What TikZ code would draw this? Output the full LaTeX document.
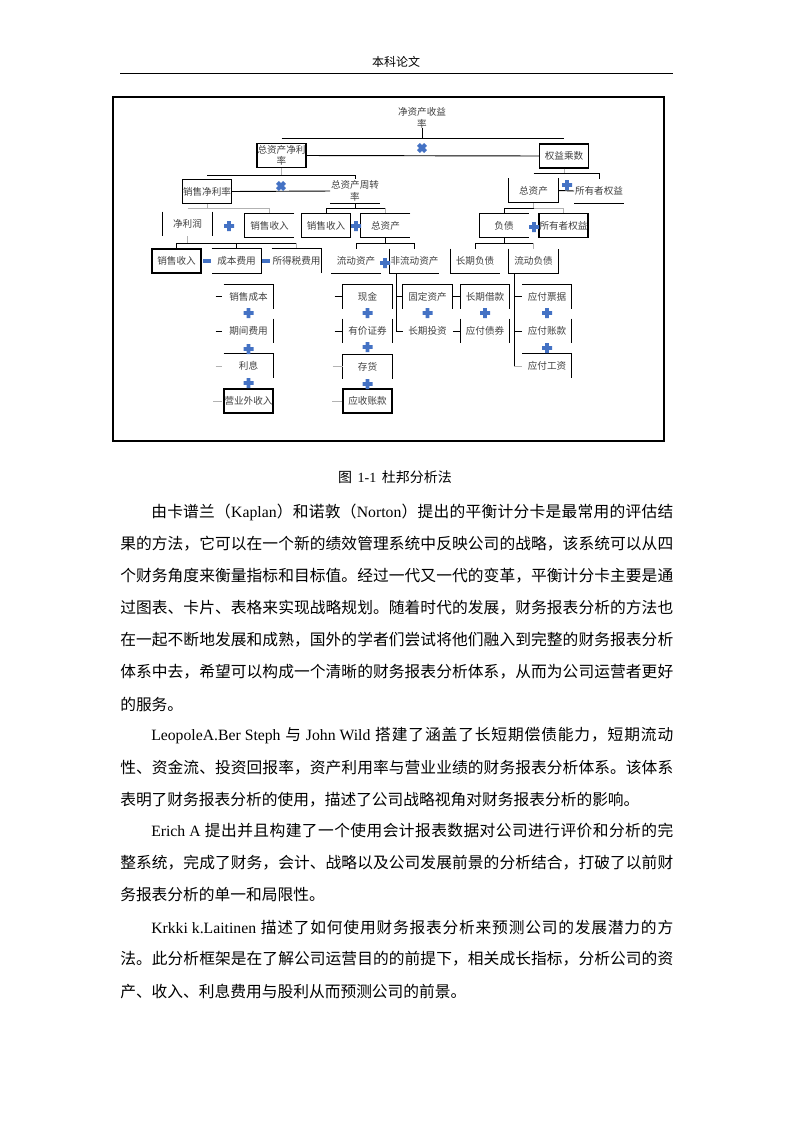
\documentclass[tikz,border=0pt]{standalone}
\usepackage{fontspec}
\setmainfont{Liberation Serif}
\newfontfamily\cjk{Noto Sans CJK SC}
\newcommand\lat[1]{{\rmfamily #1}}
\newcommand\dfont{\cjk\fontsize{7.2}{8.5}\selectfont}
\newcommand\bfont{\cjk\fontsize{11.8}{14}\selectfont}
\makeatletter
% spread the characters of one line over a given width
\newcommand\spreadline[2]{\hbox to #1{\@tfor\@ch:=#2\do{\@ch\hfil}\unskip}}
\makeatother
\definecolor{opblue}{RGB}{68,114,196}
\tikzset{
  box/.style={minimum width=36.75pt, minimum height=18pt, inner sep=0pt,
    font=\dfont, text=black!75, align=center},
  fullbox/.style={box, draw, line width=0.8pt},
  lbl/.style={inner sep=0pt, font=\dfont, text=black!75, align=center},
  conn/.style={line width=0.7pt},
  gconn/.style={line width=0.7pt, black!30},
  bord/.style={line width=0.8pt},
  bodyline/.style={anchor=west, inner sep=0pt, font=\bfont},
  opplus/.pic={\fill[opblue] (-5,-1.8) rectangle (5,1.8) (-1.8,-5) rectangle (1.8,5);},
  opminus/.pic={\fill[opblue] (-4,-1.6) rectangle (4,1.6);},
  optimes/.pic={\fill[opblue, rotate=45] (-5,-2) rectangle (5,2) (-2,-5) rectangle (2,5);}
}
\begin{document}
\begin{tikzpicture}[x=0.75pt,y=-0.75pt]
  \useasboundingbox (0,0) rectangle (793,1122);

  % en-tete de page
  \node[font=\cjk\fontsize{9}{10}\selectfont] (hdr) at (396,62) {本科论文};
  \draw[line width=0.75pt] (120,73) -- (673,73);

  % cadre de la figure
  \draw[line width=0.9pt] (113,97) rectangle (664,441);

  % niveau 0 et 1
  \node[lbl] (roe) at (422,118) {净资产收益\\率};
  \node[fullbox] (zzjl) at (281.5,155.5) {总资产净利\\率};
  \node[fullbox] (qycs) at (564,156) {权益乘数};
  \coordinate (b0) at (422,138);
  \draw[conn] (roe.south) -- (b0);
  \draw[conn] (zzjl.north |- b0) -- (qycs.north |- b0);
  \draw[conn] (zzjl.east) -- (qycs.west);
  \pic at (422,148) {optimes};

  % niveau 2
  \node[fullbox] (xsjl) at (207,191.5) {销售净利率};
  \node[box] (zzzz) at (355,191) {总资产周转\\率};
  \node[box] (zzc1) at (533.5,190.5) {总资产};
  \node[box] (syz1) at (599,191) {所有者权益};
  \coordinate (b1) at (281.5,175);
  \coordinate (b1r) at (564,173);
  \draw[gconn] (zzjl.south) -- (b1);
  \draw[conn] (xsjl.north |- b1) -- (zzzz.north |- b1) -- (zzzz.north);
  \draw[conn] (xsjl.east) -- (zzzz.west);
  \pic at (281,186) {optimes};
  \draw[bord] (zzzz.south west) -- (zzzz.south east);
  \draw[gconn] (qycs.south) -- (b1r);
  \draw[conn] (zzc1.north |- b1r) -- (syz1.north |- b1r) -- (syz1.north);
  \draw[bord] (zzc1.north west) -- (zzc1.south west) -- (zzc1.south east) -- (zzc1.north east);
  \draw[bord] (syz1.south west) -- (syz1.south east);
  \draw[conn] (zzc1.east) -- (syz1.west);
  \pic at (567,185) {opplus};

  % niveau 3
  \node[box] (jlr) at (187.5,224) {净利润};
  \node[box] (xssr1) at (269.5,225.5) {销售收入};
  \node[fullbox] (xssr2) at (326,225.5) {销售收入};
  \node[box] (zzc2) at (385.5,225.5) {总资产};
  \node[box] (fz) at (504,225.5) {负债};
  \node[fullbox] (syz2) at (563.5,225.5) {所有者权益};
  \coordinate (b2) at (207,208);
  \coordinate (b2m) at (355,208);
  \coordinate (b2r) at (533.5,208);
  \draw[gconn] (xsjl.south) -- (b2);
  \draw[gconn] (jlr.north |- b2) -- (xssr1.north |- b2) -- (xssr1.north);
  \draw[conn] (zzzz.south) -- (b2m);
  \draw[conn] (xssr2.north) -- (xssr2.north |- b2m) -- (zzc2.north |- b2m);
  \draw[gconn] (zzc2.north |- b2m) -- (zzc2.north);
  \draw[gconn] (zzc1.south) -- (b2r);
  \draw[conn] (fz.north) -- (fz.north |- b2r) -- (b2r);
  \draw[gconn] (b2r) -- (syz2.north |- b2r) -- (syz2.north);
  \draw[bord] (jlr.north west) -- (jlr.south west);
  \draw[bord] (jlr.north east) -- (jlr.south east);
  \draw[bord] (xssr1.north east) -- (xssr1.north west) -- (xssr1.south west) -- (xssr1.south east);
  \draw[bord] (zzc2.north east) -- (zzc2.north west) -- (zzc2.south west) -- (zzc2.south east);
  \draw[bord] (fz.north east) -- (fz.north west) -- (fz.south west) -- (fz.south east);
  \pic at (229,226) {opplus};
  \pic at (356,226) {opplus};
  \pic at (534,227) {opplus};

  % niveau 4
  \node[fullbox] (xssr3) at (176.5,261) {销售收入};
  \node[box] (cbfy) at (236.5,261) {成本费用};
  \node[box] (sdsfy) at (296.5,261) {所得税费用};
  \node[box] (ldzc) at (356,261) {流动资产};
  \node[box] (fldzc) at (414.5,261) {非流动资产};
  \node[box] (cqfz) at (475,261) {长期负债};
  \node[box] (ldfz) at (533.5,261) {流动负债};
  \coordinate (b3) at (187.5,243);
  \coordinate (b3m) at (385.5,243);
  \coordinate (b3r) at (504,243);
  \draw[gconn] (jlr.south) -- (b3);
  \draw[conn] (xssr3.north) -- (xssr3.north |- b3) -- (sdsfy.north |- b3);
  \draw[conn] (cbfy.north |- b3) -- (cbfy.north);
  \draw[gconn] (sdsfy.north |- b3) -- (sdsfy.north);
  \draw[conn] (zzc2.south) -- (b3m);
  \draw[conn] (ldzc.north) -- (ldzc.north |- b3m) -- (fldzc.north |- b3m) -- (fldzc.north);
  \draw[conn] (fz.south) -- (b3r);
  \draw[conn] (cqfz.north) -- (cqfz.north |- b3r) -- (ldfz.north |- b3r);
  \draw[gconn] (ldfz.north |- b3r) -- (ldfz.north);
  \draw[bord] (cbfy.north west) -- (cbfy.north east) -- (cbfy.south east) -- (cbfy.south west);
  \draw[bord] (sdsfy.north west) -- (sdsfy.north east) -- (sdsfy.south east);
  \draw[bord] (ldzc.south west) -- (ldzc.south east);
  \draw[bord] (fldzc.north west) -- (fldzc.south west) -- (fldzc.south east);
  \draw[bord] (cqfz.north west) -- (cqfz.south west) -- (cqfz.south east);
  \draw[bord] (ldfz.north west) -- (ldfz.south west) -- (ldfz.south east) -- (ldfz.north east);
  \pic at (207,261) {opminus};
  \pic at (266,261) {opminus};
  \pic at (385,263) {opplus};

  % niveau 5 : composantes
  \node[box] (xscb) at (248.5,296.5) {销售成本};
  \node[box] (qjfy) at (248.5,331) {期间费用};
  \node[box] (lx) at (248.5,366) {利息};
  \node[fullbox] (yywsr) at (248.5,401) {营业外收入};
  \node[box] (xj) at (367.5,296.5) {现金};
  \node[box] (yjzq) at (367.5,331) {有价证券};
  \node[box] (ch) at (367.5,366.5) {存货};
  \node[fullbox] (yszk) at (367.5,401) {应收账款};
  \node[box] (gdzc) at (427.5,296.5) {固定资产};
  \node[box] (cqtz) at (427.5,331) {长期投资};
  \node[box] (cqjk) at (485,296.5) {长期借款};
  \node[box] (yfzq) at (485,331) {应付债券};
  \node[box] (yfpj) at (547,296.5) {应付票据};
  \node[box] (yfzk) at (547,331) {应付账款};
  \node[box] (yfgz) at (547,366) {应付工资};

  \draw[bord] (xscb.north west) -- (xscb.north east) -- (xscb.south east);
  \draw[bord] (qjfy.north east) -- (qjfy.south east);
  \draw[bord] (lx.north west) -- (lx.north east) -- (lx.south east);
  \draw[bord] (xj.south west) -- (xj.north west) -- (xj.north east) -- (xj.south east);
  \draw[bord] (yjzq.north west) -- (yjzq.south west);
  \draw[bord] (yjzq.north east) -- (yjzq.south east);
  \draw[bord] (ch.south west) -- (ch.north west) -- (ch.north east) -- (ch.south east);
  \draw[bord] (gdzc.south west) -- (gdzc.north west) -- (gdzc.north east) -- (gdzc.south east);
  \draw[bord] (cqjk.south west) -- (cqjk.north west) -- (cqjk.north east) -- (cqjk.south east);
  \draw[bord] (yfzq.north west) -- (yfzq.south west);
  \draw[bord] (yfzq.north east) -- (yfzq.south east);
  \draw[bord] (yfpj.north west) -- (yfpj.north east) -- (yfpj.south east);
  \draw[bord] (yfzk.north east) -- (yfzk.south east);
  \draw[bord] (yfgz.north west) -- (yfgz.north east) -- (yfgz.south east);

  % petits traits de liaison
  \draw[conn] (xscb.west) ++(-8,0) -- ++(6,0);
  \draw[conn] (qjfy.west) ++(-8,0) -- ++(6,0);
  \draw[gconn] (lx.west) ++(-8,0) -- ++(6,0);
  \draw[gconn] (yywsr.west) ++(-10,0) -- ++(9,0);
  \draw[conn] (xj.west) ++(-8,0) -- (xj.west);
  \draw[conn] (yjzq.west) ++(-8,0) -- (yjzq.west);
  \draw[gconn] (ch.west) ++(-10,0) -- (ch.west);
  \draw[gconn] (yszk.west) ++(-10,0) -- (yszk.west);
  \draw[conn] (cqjk.west) ++(-7,0) -- (cqjk.west);
  \draw[conn] (yfzq.west) ++(-7,0) -- (yfzq.west);
  \coordinate (c0) at (396,273);
  \draw[conn] (c0) -- (c0 |- cqtz.west) -- (cqtz.west);
  \draw[conn] (c0 |- gdzc.west) -- (gdzc.west);
  \coordinate (e0) at (514,273);
  \draw[conn] (e0) -- (e0 |- yfgz.west);
  \draw[gconn] (e0 |- yfgz.west) -- (yfgz.west);
  \draw[conn] (e0 |- yfpj.west) -- (yfpj.west);
  \draw[conn] (e0 |- yfzk.west) -- (yfzk.west);

  \pic at (248.5,313) {opplus};
  \pic at (248.5,349) {opplus};
  \pic at (248.5,383) {opplus};
  \pic at (367.5,313) {opplus};
  \pic at (367.5,347) {opplus};
  \pic at (367.5,384) {opplus};
  \pic at (427.5,313) {opplus};
  \pic at (485,313) {opplus};
  \pic at (547,313) {opplus};
  \pic at (547,348) {opplus};

  % legende
  \node[font=\cjk\fontsize{10.5}{12}\selectfont] (cap) at (395,477) {图\hspace{0.4em}\lat{1-1}\hspace{0.4em}杜邦分析法};

  % texte courant
  \node[bodyline] (p1a) at (151,512) {\spreadline{391.5pt}{由卡谱兰（{\lat{Kaplan}}）和诺敦（{\lat{Norton}}）提出的平衡计分卡是最常用的评估结}};
  \node[bodyline] (p1b) at (120,544) {\spreadline{414.75pt}{果的方法，它可以在一个新的绩效管理系统中反映公司的战略，该系统可以从四}};
  \node[bodyline] (p1c) at (120,576) {\spreadline{414.75pt}{个财务角度来衡量指标和目标值。经过一代又一代的变革，平衡计分卡主要是通}};
  \node[bodyline] (p1d) at (120,608) {\spreadline{414.75pt}{过图表、卡片、表格来实现战略规划。随着时代的发展，财务报表分析的方法也}};
  \node[bodyline] (p1e) at (120,640) {\spreadline{414.75pt}{在一起不断地发展和成熟，国外的学者们尝试将他们融入到完整的财务报表分析}};
  \node[bodyline] (p1f) at (120,672) {\spreadline{414.75pt}{体系中去，希望可以构成一个清晰的财务报表分析体系，从而为公司运营者更好}};
  \node[bodyline] (p1g) at (120,704) {的服务。};

  \node[bodyline] (p2a) at (151,736) {\spreadline{391.5pt}{{\lat{LeopoleA.Ber Steph }}与{\lat{ John Wild }}搭建了涵盖了长短期偿债能力，短期流动}};
  \node[bodyline] (p2b) at (120,768) {\spreadline{414.75pt}{性、资金流、投资回报率，资产利用率与营业业绩的财务报表分析体系。该体系}};
  \node[bodyline] (p2c) at (120,800) {表明了财务报表分析的使用，描述了公司战略视角对财务报表分析的影响。};

  \node[bodyline] (p3a) at (151,831) {\spreadline{391.5pt}{{\lat{Erich A }}提出并且构建了一个使用会计报表数据对公司进行评价和分析的完}};
  \node[bodyline] (p3b) at (120,863) {\spreadline{414.75pt}{整系统，完成了财务，会计、战略以及公司发展前景的分析结合，打破了以前财}};
  \node[bodyline] (p3c) at (120,895) {务报表分析的单一和局限性。};

  \node[bodyline] (p4a) at (151,927) {\spreadline{391.5pt}{{\lat{Krkki k.Laitinen }}描述了如何使用财务报表分析来预测公司的发展潜力的方}};
  \node[bodyline] (p4b) at (120,959) {\spreadline{414.75pt}{法。此分析框架是在了解公司运营目的的前提下，相关成长指标，分析公司的资}};
  \node[bodyline] (p4c) at (120,991) {产、收入、利息费用与股利从而预测公司的前景。};
\end{tikzpicture}
\end{document}
